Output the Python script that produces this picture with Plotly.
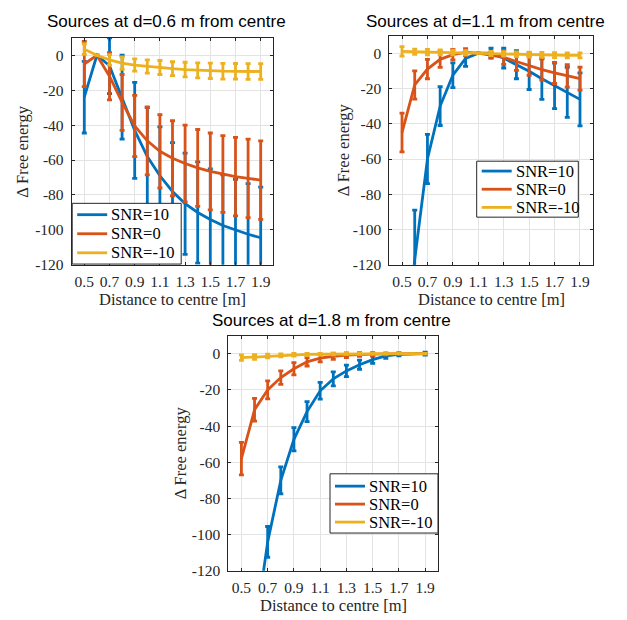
import plotly.graph_objects as go

W, H = 627, 620

# Distance of the test location to the centre [m]
distance = [0.5, 0.6, 0.7, 0.8, 0.9, 1.0, 1.1, 1.2, 1.3, 1.4, 1.5, 1.6, 1.7, 1.8, 1.9]
x_tick_vals = [0.5, 0.7, 0.9, 1.1, 1.3, 1.5, 1.7, 1.9]
x_tick_text = ["0.5", "0.7", "0.9", "1.1", "1.3", "1.5", "1.7", "1.9"]
y_tick_vals = [-120, -100, -80, -60, -40, -20, 0]
y_tick_text = ["-120", "-100", "-80", "-60", "-40", "-20", "0"]

snr_labels = ["SNR=10", "SNR=0", "SNR=-10"]
snr_colors = ["#0072BD", "#D95319", "#EDB120"]

# Sources at d = 0.6 m
dF_06_snr10 = [-24, 0, -6, -24, -43, -58, -69, -78, -85, -90, -94, -97.5, -100, -102.5, -104.5]
err_06_snr10 = [20.5, 0, 16, 24, 27.5, 28, 28, 28, 29, 29, 29, 29, 29, 29, 29]
dF_06_snr0 = [-5, 0, -12, -27, -40.5, -49, -55, -59, -62, -64.5, -66.5, -68, -69.5, -70.5, -71.5]
err_06_snr0 = [13, 0, 13.5, 16, 17.5, 19.5, 21, 21.5, 22, 22, 22, 22, 22.5, 22.5, 22.5]
dF_06_snrm10 = [3.5, 0, -2.6, -4.5, -5.6, -6.4, -7, -7.7, -8.2, -8.6, -8.9, -9.1, -9.2, -9.3, -9.3]
err_06_snrm10 = [3, 0, 3, 3.5, 3.5, 3.8, 4, 4, 4.2, 4.3, 4.4, 4.5, 4.5, 4.5, 4.5]

# Sources at d = 1.1 m
dF_11_snr10 = [-190, -117, -60, -30, -12.5, -3, 0, 0, -2.8, -6.5, -10.3, -14.5, -18.5, -22.2, -26.2]
err_11_snr10 = [30, 28, 14, 11, 7, 4.5, 0, 2.8, 5.6, 8, 10.3, 11.7, 12.9, 14.2, 15]
dF_11_snr0 = [-45, -18, -9, -3.5, -0.8, 0.5, 0, -1.2, -2.4, -4.7, -7.1, -9.3, -11.2, -12.9, -14.4]
err_11_snr0 = [11, 8, 5.5, 4.5, 3, 2, 0, 1.5, 4, 5, 5.5, 6, 6, 6.4, 6.5]
dF_11_snrm10 = [1, 0.8, 0.6, 0.5, 0.4, 0.3, 0, -0.2, -0.4, -0.6, -0.8, -0.9, -1.1, -1.2, -1.3]
err_11_snrm10 = [2.7, 1.5, 1.5, 1.4, 1.3, 1.2, 0, 1.2, 1.3, 1.3, 1.4, 1.4, 1.4, 1.4, 1.4]

# Sources at d = 1.8 m
dF_18_snr10 = [-230, -155, -104, -70, -47.3, -32, -20.5, -13.9, -9.5, -6.1, -3.3, -1.2, -0.4, 0, 0]
err_18_snr10 = [10, 9, 8.5, 7.5, 6.4, 5.5, 4.6, 3.9, 3.2, 2.5, 2, 1.4, 0.8, 0, 0.8]
dF_18_snr0 = [-58, -31, -20, -13.2, -8.3, -4.5, -2.5, -1.4, -0.8, -0.4, -0.2, -0.1, 0, 0, 0]
err_18_snr0 = [9, 6.3, 5, 3.7, 3.4, 2.3, 2, 1.7, 1.3, 1, 0.8, 0.5, 0.3, 0, 0.3]
dF_18_snrm10 = [-2.2, -1.8, -1.3, -0.9, -0.6, -0.4, -0.3, -0.2, -0.1, -0.05, 0, 0, 0, 0, 0]
err_18_snrm10 = [1.5, 1.3, 1, 0.8, 0.7, 0.6, 0.5, 0.4, 0.3, 0.3, 0.2, 0.2, 0.1, 0, 0.1]

panel_titles = [
    "Sources at d=0.6 m from centre",
    "Sources at d=1.1 m from centre",
    "Sources at d=1.8 m from centre",
]
panel_series = [
    [(dF_06_snr10, err_06_snr10), (dF_06_snr0, err_06_snr0), (dF_06_snrm10, err_06_snrm10)],
    [(dF_11_snr10, err_11_snr10), (dF_11_snr0, err_11_snr0), (dF_11_snrm10, err_11_snrm10)],
    [(dF_18_snr10, err_18_snr10), (dF_18_snr0, err_18_snr0), (dF_18_snrm10, err_18_snrm10)],
]

# plot boxes in pixels: left, right, top, bottom
boxes = [
    (71.7, 273.3, 38.3, 268.3),
    (389.3, 592.7, 36.0, 268.3),
    (228.3, 438.3, 340.0, 578.3),
]
title_pos = [(166.7, 21.7), (485.8, 21.7), (331.2, 325.0)]
ylabel_x = [22.5, 343.0, 180.0]
xlabel_dy = 35.0

# legend boxes in pixels: left, top, width, height, first row offset, row step
legend_boxes = [
    (72.2, 206.0, 109.0, 61.5, 11.5, 19.3),
    (476.7, 163.3, 101.6, 56.7, 10.0, 18.4),
    (330.0, 480.0, 108.0, 60.0, 12.5, 18.2),
]

AX_COLOR = "#262626"
GRID_COLOR = "#e3e3e3"
SERIF = "Liberation Serif"
SANS = "Liberation Sans"
TICK_SIZE = 15.5
LABEL_SIZE = 16.5
LINE_W = 2.8


def px_x(v):
    return v / W


def px_y(v):
    return 1 - v / H


fig = go.Figure()
annotations = []
shapes = []
axes = {}

for i, (title, series, box) in enumerate(zip(panel_titles, panel_series, boxes)):
    n = "" if i == 0 else str(i + 1)
    xa, ya = "x" + n, "y" + n
    for (vals, errs), label, color in zip(series, snr_labels, snr_colors):
        fig.add_trace(go.Scatter(
            x=distance, y=vals, mode="lines", name=label, showlegend=False,
            line=dict(color=color, width=LINE_W),
            error_y=dict(type="data", array=errs, visible=True,
                         color=color, thickness=LINE_W, width=2.5),
            xaxis=xa, yaxis=ya,
        ))
    l, r, t, b = box
    common = dict(
        showgrid=True, gridcolor=GRID_COLOR, gridwidth=1,
        showline=True, linecolor=AX_COLOR, linewidth=1, mirror="ticks",
        ticks="inside", ticklen=3, tickcolor=AX_COLOR,
        tickfont=dict(family=SERIF, size=TICK_SIZE, color=AX_COLOR),
        zeroline=False,
    )
    axes["xaxis" + n] = dict(
        common, domain=[px_x(l), px_x(r)], range=[0.4, 2.0],
        tickvals=x_tick_vals, ticktext=x_tick_text, anchor=ya,
        ticklabelstandoff=3,
    )
    axes["yaxis" + n] = dict(
        common, domain=[px_y(b), px_y(t)], range=[-120, 10],
        tickvals=y_tick_vals, ticktext=y_tick_text, anchor=xa,
        ticklabelstandoff=4,
    )

    # legend: framed box with a line sample and label per SNR level
    lx, ltop, lw, lh, row0, step = legend_boxes[i]
    shapes.append(dict(
        type="rect", xref="paper", yref="paper", layer="above",
        x0=px_x(lx), x1=px_x(lx + lw), y0=px_y(ltop + lh), y1=px_y(ltop),
        fillcolor="white", line=dict(color=AX_COLOR, width=1),
    ))
    for k, (label, color) in enumerate(zip(snr_labels, snr_colors)):
        ry = ltop + row0 + k * step
        shapes.append(dict(
            type="line", xref="paper", yref="paper", layer="above",
            x0=px_x(lx + 5), x1=px_x(lx + 35), y0=px_y(ry), y1=px_y(ry),
            line=dict(color=color, width=LINE_W),
        ))
        annotations.append(dict(
            text=label, x=px_x(lx + 37), y=px_y(ry), xref="paper", yref="paper",
            xanchor="left", yanchor="middle", showarrow=False,
            font=dict(family=SERIF, size=LABEL_SIZE, color="black"),
        ))

    tx, ty = title_pos[i]
    annotations.append(dict(
        text=title, x=px_x(tx), y=px_y(ty), xref="paper", yref="paper",
        xanchor="center", yanchor="middle", showarrow=False,
        font=dict(family=SANS, size=17, color="black"),
    ))
    annotations.append(dict(
        text="Distance to centre [m]", x=px_x((l + r) / 2), y=px_y(b + xlabel_dy),
        xref="paper", yref="paper", xanchor="center", yanchor="middle",
        showarrow=False, font=dict(family=SERIF, size=LABEL_SIZE, color=AX_COLOR),
    ))
    annotations.append(dict(
        text="Δ Free energy", x=px_x(ylabel_x[i]), y=px_y((t + b) / 2),
        xref="paper", yref="paper", xanchor="center", yanchor="middle",
        textangle=-90, showarrow=False,
        font=dict(family=SERIF, size=LABEL_SIZE, color=AX_COLOR),
    ))

fig.update_layout(
    width=W, height=H,
    margin=dict(l=0, r=0, t=0, b=0),
    paper_bgcolor="white", plot_bgcolor="white",
    showlegend=False,
    annotations=annotations, shapes=shapes,
    **axes,
)
fig.write_html("out.html")
